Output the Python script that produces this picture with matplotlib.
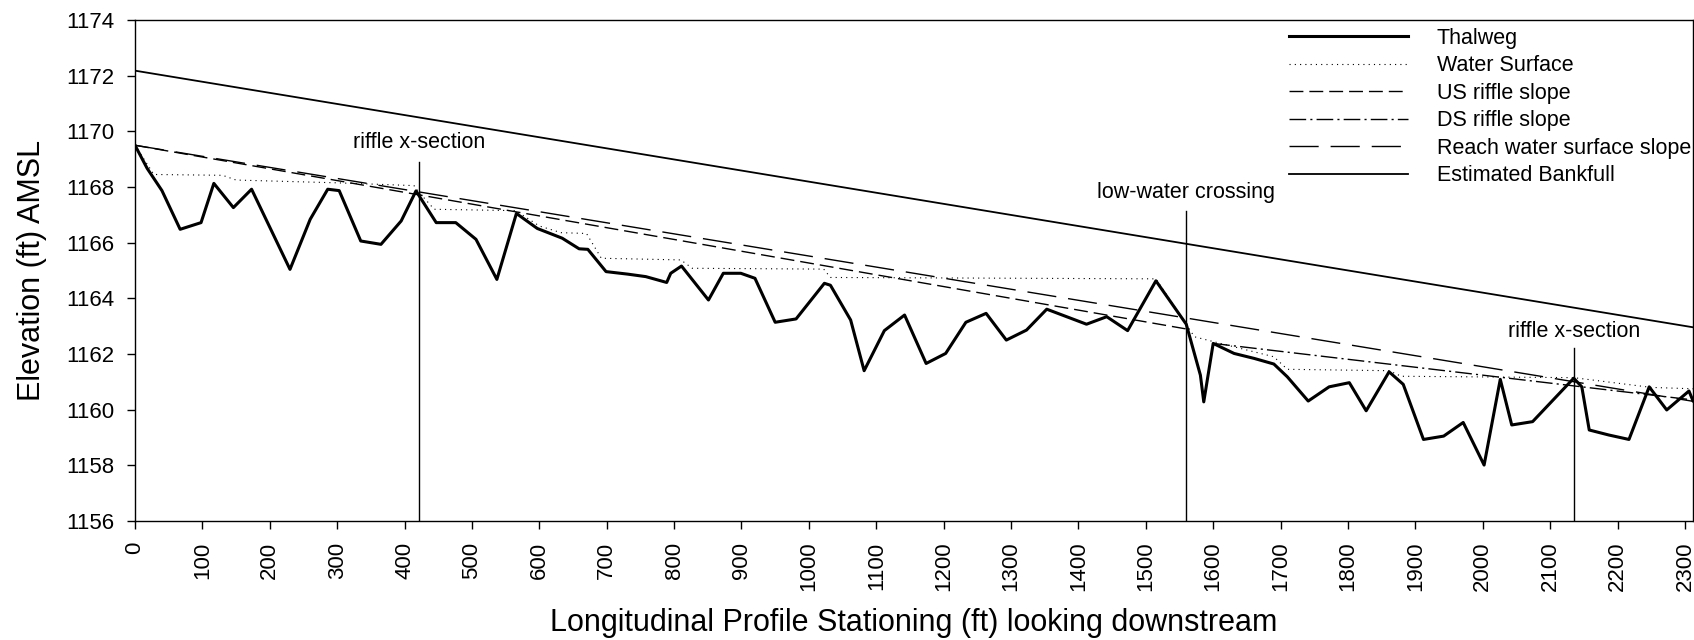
import matplotlib
matplotlib.use("Agg")
import matplotlib.pyplot as plt
import numpy as np

plt.rcParams["font.family"] = ["Liberation Sans", "DejaVu Sans"]

# thalweg survey (station ft, elevation ft)
thalweg_x = [0, 18, 40, 67, 98, 117, 146, 173, 230, 260, 286, 303, 335, 365, 395,
             417, 447, 476, 506, 537, 566, 597, 634, 659, 672, 699, 731, 758, 789, 795,
             811, 851, 873, 899, 920, 950, 981, 1023, 1032, 1062, 1082, 1112, 1142, 1174,
             1203, 1233, 1263, 1293, 1323, 1353, 1412, 1442, 1473, 1515, 1560, 1581, 1586,
             1600, 1631, 1661, 1690, 1710, 1741, 1772, 1802, 1827, 1861, 1882, 1912, 1942,
             1971, 2002, 2026, 2043, 2074, 2135, 2147, 2158, 2187, 2217, 2247, 2273, 2306, 2312]
thalweg_y = [1169.5, 1168.67, 1167.87, 1166.48, 1166.72, 1168.13, 1167.26, 1167.92, 1165.04,
             1166.84, 1167.92, 1167.87, 1166.06, 1165.94, 1166.78, 1167.86, 1166.72, 1166.72,
             1166.12, 1164.68, 1167.05, 1166.51, 1166.16, 1165.78, 1165.76, 1164.96, 1164.87,
             1164.78, 1164.57, 1164.9, 1165.16, 1163.94, 1164.9, 1164.9, 1164.72, 1163.14,
             1163.26, 1164.54, 1164.47, 1163.22, 1161.4, 1162.84, 1163.4, 1161.66, 1162.02,
             1163.14, 1163.46, 1162.5, 1162.86, 1163.61, 1163.07, 1163.34, 1162.84, 1164.63,
             1163.07, 1161.24, 1160.28, 1162.38, 1162.02, 1161.84, 1161.64, 1161.18, 1160.31,
             1160.82, 1160.97, 1159.96, 1161.36, 1160.91, 1158.93, 1159.05, 1159.54, 1158.01,
             1161.09, 1159.45, 1159.57, 1161.13, 1160.82, 1159.27, 1159.09, 1158.93, 1160.82,
             1159.99, 1160.67, 1160.32]

water_x = [0, 28, 130, 150, 300, 414, 420, 444, 565, 600, 632, 670, 692, 810, 827, 1022,
           1032, 1515, 1560, 1572, 1601, 1690, 1710, 1861, 1879, 2135, 2250, 2312]
water_y = [1169.5, 1168.45, 1168.42, 1168.25, 1168.15, 1168.05, 1167.85, 1167.2, 1167.15,
           1166.6, 1166.36, 1166.33, 1165.44, 1165.38, 1165.08, 1165.05, 1164.75, 1164.7,
           1163.07, 1162.62, 1162.44, 1161.9, 1161.45, 1161.4, 1161.2, 1161.15, 1160.8, 1160.75]

us_x, us_y = [0, 1560], [1169.5, 1162.9]
ds_x, ds_y = [1600, 2312], [1162.38, 1160.35]
reach_x, reach_y = [0, 2312], [1169.5, 1160.3]
bank_x, bank_y = [0, 2312], [1172.18, 1162.96]

# vertical markers: (station, top elevation, label, label elevation)
markers_x = [421, 1560, 2136]
markers_top = [1168.89, 1167.15, 1162.23]
marker_labels = ["riffle x-section", "low-water crossing", "riffle x-section"]
marker_label_y = [1169.6, 1167.82, 1162.8]

fig = plt.figure(figsize=(16.94, 6.4), dpi=100)
ax = fig.add_axes([135 / 1694, 119 / 640, 1558 / 1694, 501 / 640])

ax.plot(thalweg_x, thalweg_y, color="black", lw=2.2, label="Thalweg")
ax.plot(water_x, water_y, color="black", lw=0.8, ls=(0, (1, 3.75)), label="Water Surface")
ax.plot(us_x, us_y, color="black", lw=1.0, ls=(0, (10, 4.3)), label="US riffle slope")
ax.plot(ds_x, ds_y, color="black", lw=1.0, ls=(0, (12, 3, 1.5, 3)), label="DS riffle slope")
ax.plot(reach_x, reach_y, color="black", lw=1.0, ls=(0, (21, 8.6)), label="Reach water surface slope")
ax.plot(bank_x, bank_y, color="black", lw=1.3, label="Estimated Bankfull")

for mx, top, txt, ty in zip(markers_x, markers_top, marker_labels, marker_label_y):
    ax.plot([mx, mx], [1156, top], color="black", lw=1.0)
    ax.text(mx, ty, txt, ha="center", va="center", fontsize=15.5)

ax.set_xlim(0, 2312)
ax.set_ylim(1156, 1174)
ax.set_xticks(np.arange(0, 2301, 100))
ax.set_yticks(np.arange(1156, 1175, 2))
ax.tick_params(axis="x", labelrotation=90, labelsize=16, length=6, width=1, pad=9)
ax.tick_params(axis="y", labelsize=16, length=6, width=1, pad=9)
for s in ax.spines.values():
    s.set_linewidth(1.0)

ax.set_xlabel("Longitudinal Profile Stationing (ft) looking downstream", fontsize=22)
ax.set_ylabel("Elevation (ft) AMSL", fontsize=22)
ax.xaxis.set_label_coords(0.5, -0.204)
ax.xaxis.label.set_va("center")
ax.yaxis.set_label_coords(-0.066, 0.5)
ax.yaxis.label.set_va("center")

ax.legend(loc="upper right", bbox_to_anchor=(1691 / 1694, 1 - 28 / 640),
          bbox_transform=fig.transFigure, frameon=False, fontsize=15.5,
          handlelength=5.5, handletextpad=1.35, labelspacing=0.30, borderpad=0,
          borderaxespad=0)

fig.savefig("out.png", dpi=100)
